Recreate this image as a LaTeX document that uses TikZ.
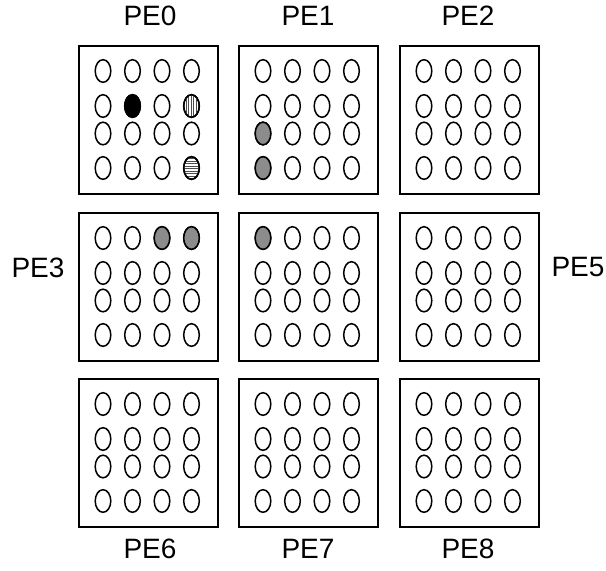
\documentclass[tikz,border=0pt]{standalone}
\usepackage{fontspec}
\setmainfont{Liberation Sans}
\begin{document}
\begin{tikzpicture}[x=1pt,y=-1pt,
  pebox/.style={draw,line width=1.5pt},
  cell/.style={draw,line width=1.5pt},
  pelabel/.style={font=\fontsize{28}{32}\selectfont,inner sep=0pt}]
\useasboundingbox (0,0) rectangle (606,571);
\def\colL{{78,238,399}}
\def\rowT{{45,212,378}}
\foreach \r in {0,1,2}{
  \foreach \c in {0,1,2}{
    \pgfmathsetmacro\bx{\colL[\c]}
    \pgfmathsetmacro\by{\rowT[\r]}
    \pgfmathtruncatemacro\id{3*\r+\c}
    \node[pebox,minimum width=139pt,minimum height=148pt,inner sep=0pt,anchor=north west] (pe\id) at (\bx,\by) {};
    \foreach \i/\ox in {0/25,1/54.5,2/84,3/113.5}{
      \foreach \j/\oy in {0/26,1/61,2/88.5,3/123}{
        \coordinate (e\id-\j-\i) at (\bx+\ox,\by+\oy);
      }
    }
  }
}
% plain ellipses
\foreach \id in {0,...,8}{
  \foreach \i in {0,...,3}{
    \foreach \j in {0,...,3}{
      \draw[cell,fill=white] (e\id-\j-\i) ellipse[x radius=7.8pt,y radius=11.3pt];
    }
  }
}
% special cells
\draw[cell,fill=black] (e0-1-1) ellipse[x radius=7.8pt,y radius=11.3pt];
\begin{scope}
  \clip (e0-1-3) ellipse[x radius=7.8pt,y radius=11.3pt];
  \foreach \k in {-8,-5.5,...,8}{
    \draw[line width=0.5pt,black!70] ([xshift=\k pt,yshift=-14pt]e0-1-3) -- ([xshift=\k pt,yshift=14pt]e0-1-3);
  }
\end{scope}
\draw[cell] (e0-1-3) ellipse[x radius=7.8pt,y radius=11.3pt];
\begin{scope}
  \clip (e0-3-3) ellipse[x radius=7.8pt,y radius=11.3pt];
  \foreach \k in {-13,-10.5,...,13}{
    \draw[line width=0.5pt,black!70] ([xshift=-9pt,yshift=\k pt]e0-3-3) -- ([xshift=9pt,yshift=\k pt]e0-3-3);
  }
\end{scope}
\draw[cell] (e0-3-3) ellipse[x radius=7.8pt,y radius=11.3pt];
\foreach \p in {e1-2-0,e1-3-0,e3-0-2,e3-0-3,e4-0-0}{
  \draw[cell,fill=black!45] (\p) ellipse[x radius=7.8pt,y radius=11.3pt];
}
% labels
\node[pelabel] (l0) at (150,16) {PE0};
\node[pelabel] (l1) at (308,16) {PE1};
\node[pelabel] (l2) at (468,16) {PE2};
\node[pelabel] (l3) at (38,268) {PE3};
\node[pelabel] (l5) at (578,267) {PE5};
\node[pelabel] (l6) at (150,549) {PE6};
\node[pelabel] (l7) at (308,549) {PE7};
\node[pelabel] (l8) at (468,549) {PE8};
\end{tikzpicture}
\end{document}
